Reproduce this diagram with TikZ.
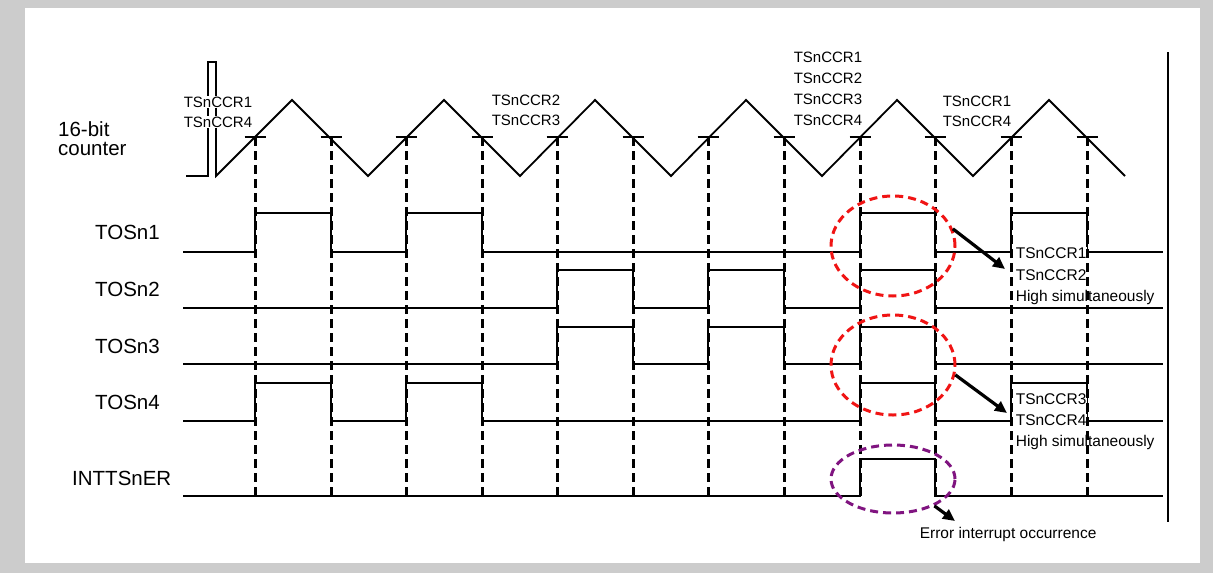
\documentclass[tikz,border=0pt]{standalone}
\usepackage{fontspec}
\setmainfont{Liberation Sans}
\usetikzlibrary{shapes.geometric,arrows.meta}
\definecolor{framegray}{RGB}{204,204,204}
\definecolor{ellred}{RGB}{240,20,20}
\definecolor{ellpurple}{RGB}{128,20,128}
\tikzset{
  sig/.style={line width=1.8pt, line join=miter},
  guide/.style={line width=3pt, dash pattern=on 9pt off 5pt},
  siglabel/.style={anchor=base west, inner sep=0pt, font=\fontsize{20.5}{22}\selectfont},
  cmplabel/.style={anchor=base west, inner sep=0.6pt, fill=white, font=\fontsize{15}{18}\selectfont},
  notelabel/.style={anchor=base west, inner sep=0.6pt, fill=white, font=\fontsize{15.5}{18}\selectfont},
  ring/.style={ellipse, draw, line width=3pt, dash pattern=on 8pt off 5pt, inner sep=0pt},
  callout/.style={line width=3.2pt, -{Triangle[length=12pt,width=11pt]}}
}
\begin{document}
\begin{tikzpicture}[x=1pt,y=-1pt]
\useasboundingbox (0,0) rectangle (1213,573);
\fill[framegray] (0,0) rectangle (1213,573);
\fill[white] (25,8) rectangle (1200,563);

% right border line
\draw[line width=2pt] (1168,52) -- (1168,522);

% 16-bit counter
\draw[sig] (186,176) -- (208,176) -- (208,62) -- (216,62) -- (216,176)
  -- (292,100) -- (368,176) -- (444,100) -- (520,176) -- (595,100) -- (671,176)
  -- (746,100) -- (822,176) -- (897,100) -- (973,176) -- (1049,100) -- (1125,176);

% TOSn1
\draw[sig] (183,252) -- (255,252) -- (255,213) -- (331,213) -- (331,252) -- (406,252)
  -- (406,213) -- (482,213) -- (482,252) -- (860,252) -- (860,213) -- (935,213)
  -- (935,252) -- (1011,252) -- (1011,213) -- (1087,213) -- (1087,252) -- (1163,252);
% TOSn2
\draw[sig] (183,308) -- (557,308) -- (557,270) -- (633,270) -- (633,308) -- (708,308)
  -- (708,270) -- (784,270) -- (784,308) -- (860,308) -- (860,270) -- (935,270)
  -- (935,308) -- (1163,308);
% TOSn3
\draw[sig] (183,364) -- (557,364) -- (557,327) -- (633,327) -- (633,364) -- (708,364)
  -- (708,327) -- (784,327) -- (784,364) -- (860,364) -- (860,327) -- (935,327)
  -- (935,364) -- (1163,364);
% TOSn4
\draw[sig] (183,421) -- (255,421) -- (255,383) -- (331,383) -- (331,421) -- (406,421)
  -- (406,383) -- (482,383) -- (482,421) -- (860,421) -- (860,383) -- (935,383)
  -- (935,421) -- (1011,421) -- (1011,383) -- (1087,383) -- (1087,421) -- (1163,421);
% INTTSnER
\draw[sig] (183,496) -- (860,496) -- (860,459) -- (935,459) -- (935,496) -- (1163,496);

% signal names
\node[siglabel] (l0a) at (58,136) {16-bit};
\node[siglabel] (l0b) at (58,155) {counter};
\node[siglabel] (l1) at (95,239) {TOSn1};
\node[siglabel] (l2) at (95,296.5) {TOSn2};
\node[siglabel] (l3) at (95,353) {TOSn3};
\node[siglabel] (l4) at (95,409) {TOSn4};
\node[siglabel] (l5) at (72,485) {INTTSnER};

% compare labels
\node[cmplabel] (c1a) at (183,107) {TSnCCR1};
\node[cmplabel] (c1b) at (183,127) {TSnCCR4};
\node[cmplabel] (c2a) at (491,105) {TSnCCR2};
\node[cmplabel] (c2b) at (491,125) {TSnCCR3};
\node[cmplabel] (c3a) at (793,62) {TSnCCR1};
\node[cmplabel] (c3b) at (793,83) {TSnCCR2};
\node[cmplabel] (c3c) at (793,104) {TSnCCR3};
\node[cmplabel] (c3d) at (793,125) {TSnCCR4};
\node[cmplabel] (c4a) at (942,106) {TSnCCR1};
\node[cmplabel] (c4b) at (942,126) {TSnCCR4};

% notes
\node[notelabel] (n1a) at (1015,258) {TSnCCR1};
\node[notelabel] (n1b) at (1015,280) {TSnCCR2};
\node[notelabel] (n1c) at (1015,301) {High simultaneously};
\node[notelabel] (n2a) at (1015,404) {TSnCCR3};
\node[notelabel] (n2b) at (1015,425) {TSnCCR4};
\node[notelabel] (n2c) at (1015,446) {High simultaneously};
\node[notelabel] (n3) at (919,538) {Error interrupt occurrence};

% compare guides and ticks
\foreach \x in {255,331,406,482,557,633,708,784,860,935,1011,1087} {
  \draw[guide] (\x,137) -- (\x,496);
  \draw[sig] (\x-10.5,137) -- (\x+10.5,137);
}

% highlight rings
\node[ring, ellred, minimum width=124pt, minimum height=100pt] (e1) at (893,246) {};
\node[ring, ellred, minimum width=124pt, minimum height=100pt] (e2) at (893,365) {};
\node[ring, ellpurple, minimum width=124pt, minimum height=68pt] (e3) at (893,479) {};

% callout arrows
\coordinate (a1) at (1005,269);
\coordinate (a2) at (1007,413);
\coordinate (a3) at (955,521);
\draw[callout] (e1.16) -- (a1);
\draw[callout] (e2.-9) -- (a2);
\draw[callout] (e3.-33) -- (a3);
\end{tikzpicture}
\end{document}
